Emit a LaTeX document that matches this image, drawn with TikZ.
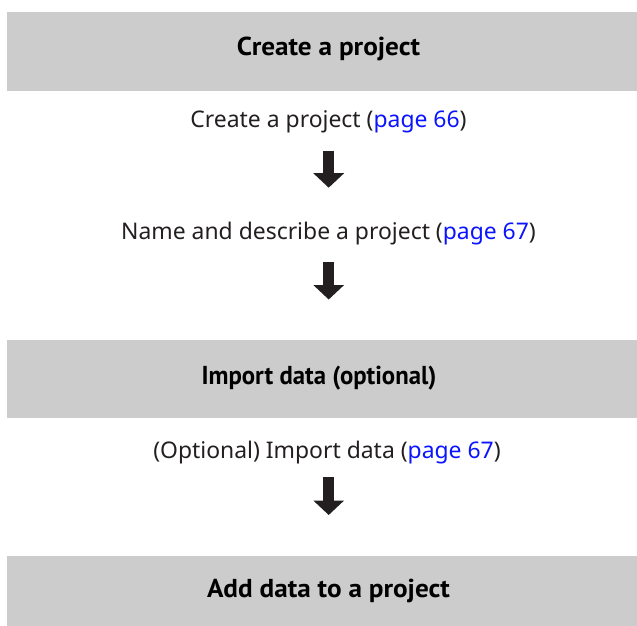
\documentclass[tikz,border=0pt]{standalone}
\usepackage{fontspec}
\setmainfont{Noto Sans}
\newfontfamily\headfont[FakeStretch=1.05]{PT Sans}
\usetikzlibrary{arrows.meta}
\definecolor{bandgray}{HTML}{CCCCCC}
\definecolor{linkblue}{HTML}{0A14FF}
\definecolor{arrowdark}{HTML}{231F20}
\tikzset{
  band/.style={fill=bandgray, draw=none, inner sep=0pt, anchor=north west},
  headtext/.style={font=\headfont\bfseries\fontsize{26}{30}\selectfont, text=black,
    inner sep=0pt, anchor=base},
  steptext/.style={font=\fontsize{23}{27}\selectfont, text=arrowdark,
    inner sep=0pt, anchor=base},
  flowarrow/.style={draw=arrowdark, line width=10.7bp,
    -{Triangle[width=30bp,length=14.5bp]}},
}
\newcommand{\pagelink}[1]{\textcolor{linkblue}{page #1}}
\begin{document}
\begin{tikzpicture}[x=1bp, y=-1bp]
  \useasboundingbox (0,0) rectangle (637,626);
  % grey section bands
  \node[band, minimum width=640bp, minimum height=79bp] (b1) at (7,12) {};
  \node[band, minimum width=640bp, minimum height=78bp] (b2) at (7,340) {};
  \node[band, minimum width=640bp, minimum height=72bp] (b3) at (7,556) {};
  % section titles (placed on their baselines)
  \node[headtext] (h1) at (328.5,56) {Create a project};
  \node[headtext] (h2) at (319,384) {\scalebox{0.91}[1]{Import data (optional)}};
  \node[headtext] (h3) at (328.5,597.5) {Add data to a project};
  % step texts
  \node[steptext] (s1) at (328.5,128) {Create a project (\pagelink{66})};
  \node[steptext] (s2) at (328.5,239) {Name and describe a project (\pagelink{67})};
  \node[steptext] (s3) at (327,458) {(Optional) Import data (\pagelink{67})};
  % arrow end points
  \coordinate (a1s) at (328.7,150.7); \coordinate (a1e) at (328.7,187.7);
  \coordinate (a2s) at (328.7,262);   \coordinate (a2e) at (328.7,299.5);
  \coordinate (a3s) at (328.7,477);   \coordinate (a3e) at (328.7,515);
  \draw[flowarrow] (a1s) -- (a1e);
  \draw[flowarrow] (a2s) -- (a2e);
  \draw[flowarrow] (a3s) -- (a3e);
\end{tikzpicture}
\end{document}
